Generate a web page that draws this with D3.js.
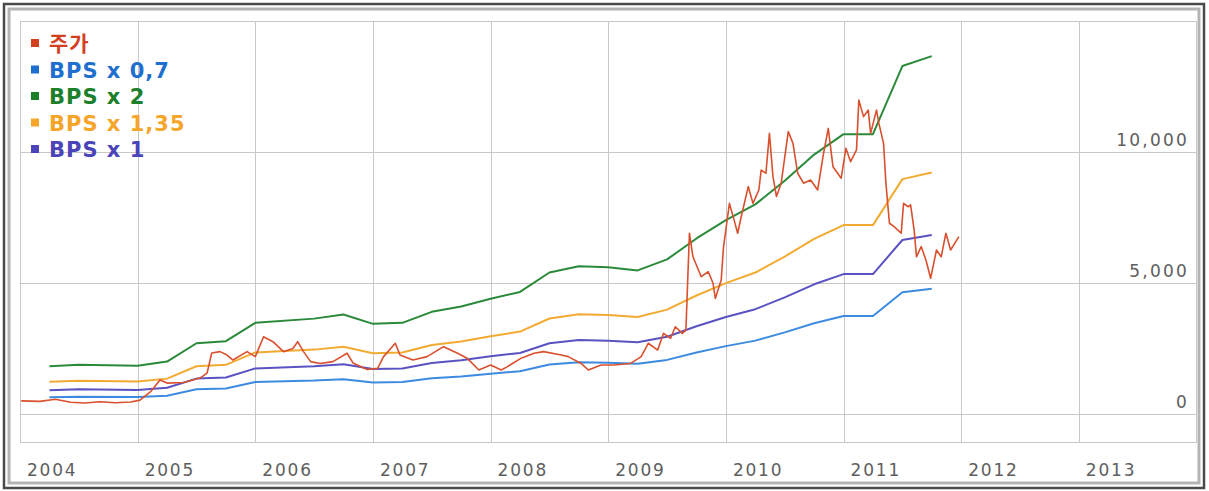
<!DOCTYPE html>
<html>
<head>
<meta charset="utf-8">
<script src="https://cdn.jsdelivr.net/npm/d3@7"></script>
<style>
  body { margin: 0; background: #fff; }
  svg { display: block; }
</style>
</head>
<body>
<div id="chart"></div>
<script>
// year ticks on the x axis
const years = [2004, 2005, 2006, 2007, 2008, 2009, 2010, 2011, 2012, 2013]
const yTicks = [0, 5000, 10000]

// BPS lines: quarter dates (decimal year) and values
const bpsDates = [2004.25, 2004.5, 2005.0, 2005.25, 2005.5, 2005.75, 2006.0, 2006.5, 2006.75, 2007.0,
  2007.25, 2007.5, 2007.75, 2008.0, 2008.25, 2008.5, 2008.75, 2009.0, 2009.25, 2009.5,
  2009.75, 2010.0, 2010.25, 2010.5, 2010.75, 2011.0, 2011.25, 2011.5, 2011.75]
const bps07 = [637, 658, 644, 700, 945, 973, 1218, 1274, 1330, 1204,
  1218, 1365, 1435, 1540, 1631, 1890, 1974, 1960, 1918, 2065,
  2345, 2590, 2800, 3115, 3465, 3738, 3738, 4648, 4781]
const bps2 = [1820, 1880, 1840, 2000, 2700, 2780, 3480, 3640, 3800, 3440,
  3480, 3900, 4100, 4400, 4660, 5400, 5640, 5600, 5480, 5900,
  6700, 7400, 8000, 8900, 9900, 10680, 10680, 13280, 13660]
const bps135 = [1229, 1269, 1242, 1350, 1823, 1877, 2349, 2457, 2565, 2322,
  2349, 2633, 2768, 2970, 3146, 3645, 3807, 3780, 3699, 3983,
  4523, 4995, 5400, 6008, 6683, 7209, 7209, 8964, 9221]
const bps1 = [910, 940, 920, 1000, 1350, 1390, 1740, 1820, 1900, 1720,
  1740, 1950, 2050, 2200, 2330, 2700, 2820, 2800, 2740, 2950,
  3350, 3700, 4000, 4450, 4950, 5340, 5340, 6640, 6830]

// share price (주가)
const priceDates = [2004.01, 2004.17, 2004.30, 2004.43, 2004.55, 2004.68, 2004.81, 2004.94, 2005.02, 2005.11,
  2005.19, 2005.25, 2005.39, 2005.53, 2005.59, 2005.63, 2005.70, 2005.76, 2005.81, 2005.93,
  2006.00, 2006.07, 2006.15, 2006.24, 2006.32, 2006.36, 2006.41, 2006.47, 2006.55, 2006.66,
  2006.78, 2006.83, 2006.95, 2007.04, 2007.09, 2007.19, 2007.23, 2007.34, 2007.46, 2007.60,
  2007.72, 2007.80, 2007.90, 2008.00, 2008.09, 2008.14, 2008.26, 2008.37, 2008.45, 2008.60,
  2008.66, 2008.77, 2008.83, 2008.94, 2009.05, 2009.19, 2009.28, 2009.34, 2009.42, 2009.47,
  2009.53, 2009.57, 2009.63, 2009.66, 2009.69, 2009.72, 2009.79, 2009.85, 2009.89, 2009.91,
  2009.96, 2009.98, 2010.03, 2010.07, 2010.10, 2010.13, 2010.19, 2010.23, 2010.28, 2010.30,
  2010.34, 2010.37, 2010.40, 2010.43, 2010.47, 2010.53, 2010.57, 2010.61, 2010.66, 2010.72,
  2010.78, 2010.83, 2010.87, 2010.91, 2010.98, 2011.02, 2011.06, 2011.11, 2011.13, 2011.17,
  2011.21, 2011.23, 2011.28, 2011.30, 2011.34, 2011.36, 2011.39, 2011.43, 2011.49, 2011.51,
  2011.55, 2011.57, 2011.60, 2011.62, 2011.66, 2011.70, 2011.74, 2011.79, 2011.83, 2011.87,
  2011.91, 2011.98]
const price = [500, 480, 560, 450, 420, 470, 430, 460, 530, 850,
  1300, 1180, 1200, 1370, 1560, 2330, 2380, 2250, 2060, 2380,
  2190, 2950, 2760, 2380, 2500, 2760, 2380, 2000, 1930, 2000,
  2320, 1950, 1700, 1740, 2190, 2700, 2250, 2060, 2190, 2570,
  2320, 2130, 1680, 1870, 1680, 1800, 2130, 2320, 2380, 2250,
  2190, 1930, 1680, 1870, 1870, 1930, 2190, 2700, 2440, 3080,
  2890, 3330, 3080, 3200, 6900, 6000, 5240, 5430, 5000, 4410,
  5110, 6390, 8040, 7400, 6900, 7530, 8680, 8040, 8550, 9310,
  9190, 10710, 9060, 8300, 8810, 10780, 10330, 9190, 8810, 8930,
  8550, 9950, 10900, 9440, 9000, 10140, 9630, 10080, 11980, 11350,
  11600, 10710, 11600, 11100, 10330, 8810, 7280, 7150, 6900, 8040,
  7910, 7980, 7020, 6000, 6390, 5880, 5180, 6260, 6000, 6900,
  6260, 6770]

const legendNames = ['주가', 'BPS x 0,7', 'BPS x 2', 'BPS x 1,35', 'BPS x 1']
const legendColors = ['#d2401f', '#1f6fcf', '#1c7f2a', '#f5a52a', '#4a44b8']
const lineColors = ['#d9502e', '#3d8be0', '#2b8a3a', '#f2ab32', '#5a52c2']

const width = 1209, height = 491
const plot = { left: 20, right: 1196, top: 21, bottom: 442 }

const svg = d3.select('#chart').append('svg')
  .attr('width', width)
  .attr('height', height)

const x = d3.scaleLinear().domain([2004, 2014]).range([plot.left, plot.right + 0.5])
const y = d3.scaleLinear().domain([-1069, 15000]).range([plot.bottom, plot.top])

// frame
svg.append('rect')
  .attr('x', 4).attr('y', 4).attr('width', 1200).attr('height', 484)
  .attr('fill', 'none').attr('stroke', '#4a4a4a').attr('stroke-width', 2.5)
svg.append('rect')
  .attr('x', 9).attr('y', 9).attr('width', 1190).attr('height', 474)
  .attr('fill', 'none').attr('stroke', '#b4b4b4').attr('stroke-width', 3)

// grid
const grid = svg.append('g').attr('stroke', '#c8c8c8').attr('stroke-width', 1)
grid.selectAll('.vg').data(years.slice(1))
  .enter().append('line')
  .attr('x1', d => Math.round(x(d)) + 0.5).attr('x2', d => Math.round(x(d)) + 0.5)
  .attr('y1', plot.top).attr('y2', plot.bottom)
grid.selectAll('.hg').data(yTicks)
  .enter().append('line')
  .attr('x1', plot.left).attr('x2', plot.right)
  .attr('y1', d => Math.round(y(d)) + 0.5).attr('y2', d => Math.round(y(d)) + 0.5)
grid.append('rect')
  .attr('x', plot.left + 0.5).attr('y', plot.top + 0.5)
  .attr('width', plot.right - plot.left).attr('height', plot.bottom - plot.top)
  .attr('fill', 'none')

// axis labels
svg.selectAll('.xl').data(years)
  .enter().append('text')
  .attr('x', d => x(d) + 7)
  .attr('y', 476)
  .attr('fill', '#5e5e5e')
  .style('font', '17px "DejaVu Sans", Verdana, sans-serif')
  .style('letter-spacing', '1.8px')
  .text(d => d)

svg.selectAll('.yl').data(yTicks)
  .enter().append('text')
  .attr('x', 1189)
  .attr('y', d => y(d) - 6)
  .attr('text-anchor', 'end')
  .attr('fill', '#5e5e5e')
  .style('font', '17px "DejaVu Sans", Verdana, sans-serif')
  .style('letter-spacing', '2.2px')
  .text(d => d3.format(',')(d))

// lines
const line = d3.line()
  .x(d => x(d[0]))
  .y(d => y(d[1]))

const series = [
  { dates: bpsDates, values: bps07, color: lineColors[1], w: 2 },
  { dates: bpsDates, values: bps2, color: lineColors[2], w: 2 },
  { dates: bpsDates, values: bps135, color: lineColors[3], w: 2 },
  { dates: bpsDates, values: bps1, color: lineColors[4], w: 2 },
  { dates: priceDates, values: price, color: lineColors[0], w: 1.6 }
]
series.forEach(s => {
  svg.append('path')
    .datum(d3.zip(s.dates, s.values))
    .attr('d', line)
    .attr('fill', 'none')
    .attr('stroke', s.color)
    .attr('stroke-width', s.w)
    .attr('stroke-linejoin', 'round')
})

// legend
const legend = svg.append('g').attr('transform', 'translate(31, 43)')
const rows = legend.selectAll('g').data(legendNames)
  .enter().append('g')
  .attr('transform', (d, i) => `translate(0, ${i * 26.5})`)
rows.append('rect')
  .attr('x', 0).attr('y', -4).attr('width', 8).attr('height', 8)
  .attr('fill', (d, i) => legendColors[i])
rows.append('text')
  .attr('x', 18).attr('y', 8)
  .attr('fill', (d, i) => legendColors[i])
  .style('font', 'bold 21px "DejaVu Sans", "Noto Sans CJK KR", sans-serif')
  .style('letter-spacing', '1px')
  .text(d => d)
</script>
</body>
</html>
